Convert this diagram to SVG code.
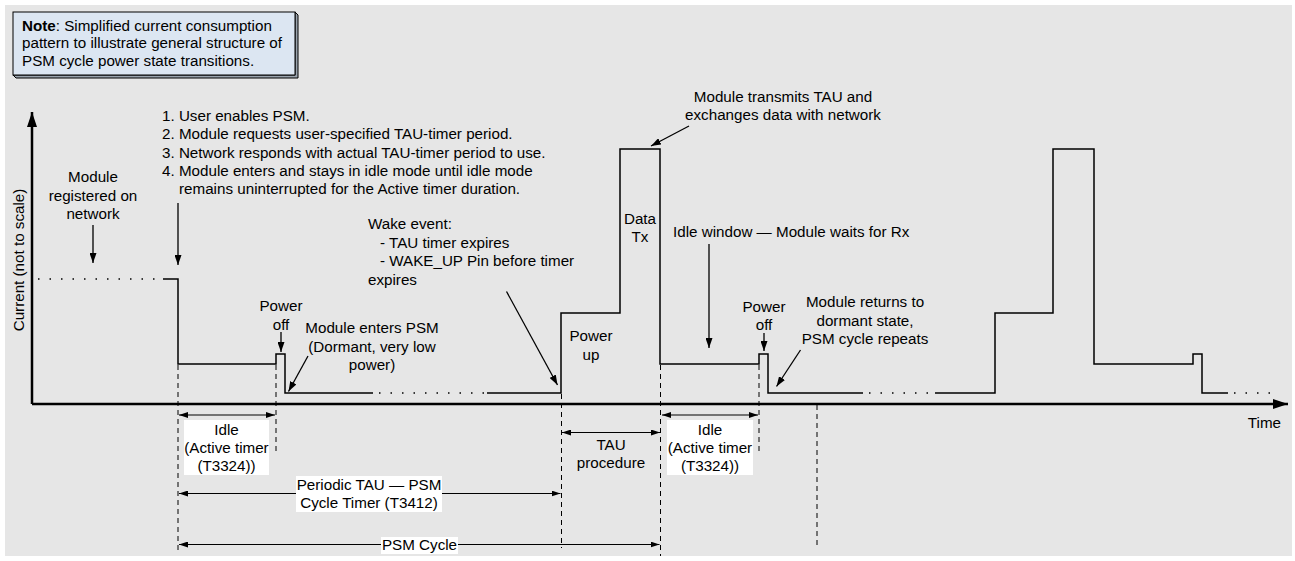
<svg xmlns="http://www.w3.org/2000/svg" width="1295" height="561" viewBox="0 0 1295 561">
<defs>
<style>
.t{font-family:"Liberation Sans",Arial,sans-serif;font-size:15.2px;fill:#000}
.m{text-anchor:middle}
.wave{fill:none;stroke:#000;stroke-width:1.5}
.dot{fill:none;stroke:#000;stroke-width:1.5;stroke-dasharray:1.5 10}
.dash{fill:none;stroke:#000;stroke-width:1;stroke-dasharray:5 4}
.ann{fill:none;stroke:#000;stroke-width:1.3;marker-end:url(#ah)}
.dim{fill:none;stroke:#000;stroke-width:1.2;marker-start:url(#dh);marker-end:url(#dh)}
.axis{fill:none;stroke:#000;stroke-width:2.5}
.lbl{fill:#fff}
</style>
<marker id="ah" viewBox="0 0 10 7" refX="10" refY="3.5" markerWidth="10" markerHeight="7" markerUnits="userSpaceOnUse" orient="auto"><path d="M0,0 L10,3.5 L0,7 z" fill="#000"/></marker>
<marker id="dh" viewBox="0 0 9 6" refX="9" refY="3" markerWidth="9" markerHeight="6" markerUnits="userSpaceOnUse" orient="auto-start-reverse"><path d="M0,0 L9,3 L0,6 z" fill="#000"/></marker>
<marker id="axh" viewBox="0 0 15 10" refX="15" refY="5" markerWidth="15" markerHeight="10" markerUnits="userSpaceOnUse" orient="auto"><path d="M0,0 L15,5 L0,10 z" fill="#000"/></marker>
</defs>
<rect x="5" y="5" width="1287" height="551" fill="#e6e6e6"/>

<g id="note">
<polygon points="295,12 298,15 298,78 16,78 13,75 295,75" fill="#9aa3ad" stroke="#000" stroke-width="1"/>
<rect x="13" y="12" width="282" height="63" fill="#dce6f2" stroke="#000" stroke-width="1"/>
<text class="t" x="22" y="30.5"><tspan font-weight="bold">Note</tspan>: Simplified current consumption</text>
<text class="t" x="22" y="48">pattern to illustrate general structure of</text>
<text class="t" x="22" y="65.5">PSM cycle power state transitions.</text>
</g>

<g id="axes">
<line class="axis" x1="32" y1="404" x2="32" y2="112" marker-end="url(#axh)"/>
<line class="axis" x1="32" y1="404" x2="1288" y2="404" marker-end="url(#axh)"/>
<text class="t m" transform="translate(23.5,260) rotate(-90)">Current (not to scale)</text>
<text class="t" x="1281" y="428" text-anchor="end">Time</text>
</g>

<g id="waveform">
<path class="dot" d="M38,279 H163"/>
<path class="wave" d="M163,279 H178 V364 H276 V354 H285 V393 H373"/>
<path class="dot" d="M379,393 H487"/>
<path class="wave" d="M487,393 H561 V313 H620 V149 H660 V364 H759 V354 H768 V393 H863"/>
<path class="dot" d="M869,393 H935"/>
<path class="wave" d="M935,393 H995 V313 H1053 V149 H1094 V364 H1193 V354 H1202 V393 H1228"/>
<path class="dot" d="M1234,393 H1272"/>
</g>

<g id="guides">
<line class="dash" x1="178" y1="365" x2="178" y2="553"/>
<line class="dash" x1="276" y1="365" x2="276" y2="453"/>
<line class="dash" x1="561.5" y1="394" x2="561.5" y2="548"/>
<line class="dash" x1="660.5" y1="365" x2="660.5" y2="556"/>
<line class="dash" x1="759" y1="365" x2="759" y2="453"/>
<line class="dash" x1="817" y1="405" x2="817" y2="548"/>
</g>

<g id="connectors">
<line class="ann" x1="93" y1="225" x2="93" y2="263"/>
<line class="ann" x1="178" y1="203" x2="178" y2="265"/>
<line class="ann" x1="281" y1="332" x2="281" y2="352"/>
<line class="ann" x1="308" y1="356" x2="288.5" y2="391.5"/>
<line class="ann" x1="506.5" y1="291.5" x2="557.5" y2="385"/>
<line class="ann" x1="689" y1="126" x2="651" y2="146"/>
<line class="ann" x1="709" y1="244" x2="709" y2="348"/>
<line class="ann" x1="764" y1="333" x2="764" y2="351"/>
<line class="ann" x1="800.5" y1="350" x2="776.5" y2="386.5"/>
<line class="dim" x1="179" y1="415" x2="275" y2="415"/>
<line class="dim" x1="562" y1="432.5" x2="660" y2="432.5"/>
<line class="dim" x1="662" y1="415" x2="758" y2="415"/>
<line class="dim" x1="179" y1="493.5" x2="560.5" y2="493.5"/>
<line class="dim" x1="179" y1="544.5" x2="659.5" y2="544.5"/>
</g>

<g id="label-registered">
<text class="t m" x="93" y="182">Module</text>
<text class="t m" x="93" y="200.5">registered on</text>
<text class="t m" x="93" y="219">network</text>
</g>

<g id="label-steps">
<text class="t" x="162" y="121">1. User enables PSM.</text>
<text class="t" x="162" y="139.3">2. Module requests user-specified TAU-timer period.</text>
<text class="t" x="162" y="157.6">3. Network responds with actual TAU-timer period to use.</text>
<text class="t" x="162" y="176">4. Module enters and stays in idle mode until idle mode</text>
<text class="t" x="179" y="194.3">remains uninterrupted for the Active timer duration.</text>
</g>

<g id="label-poweroff1">
<text class="t m" x="281" y="311">Power</text>
<text class="t m" x="281" y="329.5">off</text>
</g>

<g id="label-psm">
<text class="t m" x="372" y="333">Module enters PSM</text>
<text class="t m" x="372" y="351.5">(Dormant, very low</text>
<text class="t m" x="372" y="370">power)</text>
</g>

<g id="label-wake">
<text class="t" x="368" y="229">Wake event:</text>
<text class="t" x="380" y="247.5">- TAU timer expires</text>
<text class="t" x="380" y="266">- WAKE_UP Pin before timer</text>
<text class="t" x="368" y="284.5">expires</text>
</g>

<g id="label-powerup">
<text class="t m" x="591" y="340.5">Power</text>
<text class="t m" x="591" y="359.5">up</text>
</g>

<g id="label-datatx">
<text class="t m" x="640" y="224">Data</text>
<text class="t m" x="640" y="241.5">Tx</text>
</g>

<g id="label-transmit">
<text class="t m" x="783" y="101.5">Module transmits TAU and</text>
<text class="t m" x="783" y="119.5">exchanges data with network</text>
</g>

<g id="label-idlewindow">
<text class="t" x="673" y="237">Idle window — Module waits for Rx</text>
</g>

<g id="label-poweroff2">
<text class="t m" x="764" y="311.5">Power</text>
<text class="t m" x="764" y="329.5">off</text>
</g>

<g id="label-returns">
<text class="t m" x="865" y="307">Module returns to</text>
<text class="t m" x="865" y="325.5">dormant state,</text>
<text class="t m" x="865" y="344">PSM cycle repeats</text>
</g>

<g id="label-idle1">
<rect class="lbl" x="184" y="420" width="85" height="55"/>
<text class="t m" x="226.5" y="434.5">Idle</text>
<text class="t m" x="226.5" y="452.5">(Active timer</text>
<text class="t m" x="226.5" y="470.5">(T3324))</text>
</g>

<g id="label-tau">
<text class="t m" x="611" y="449.5">TAU</text>
<text class="t m" x="611" y="467.5">procedure</text>
</g>

<g id="label-idle2">
<rect class="lbl" x="667" y="420" width="86" height="55"/>
<text class="t m" x="710" y="434.5">Idle</text>
<text class="t m" x="710" y="452.5">(Active timer</text>
<text class="t m" x="710" y="470.5">(T3324))</text>
</g>

<g id="label-periodic">
<rect class="lbl" x="296" y="476" width="146" height="36"/>
<text class="t m" x="369" y="489.5">Periodic TAU — PSM</text>
<text class="t m" x="369" y="508">Cycle Timer (T3412)</text>
</g>

<g id="label-cycle">
<rect class="lbl" x="381" y="537" width="77" height="17"/>
<text class="t m" x="419.5" y="550">PSM Cycle</text>
</g>
</svg>
